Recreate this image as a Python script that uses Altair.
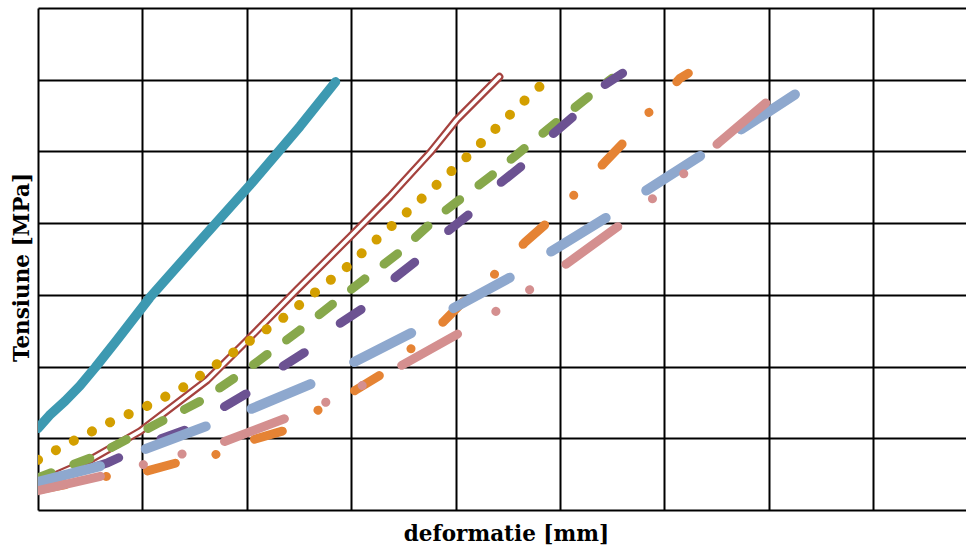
import altair as alt
import pandas as pd

# Stress-strain curves: deformation [mm] vs. stress [MPa], one list pair per test
teal_x = [0.00, 0.11, 0.26, 0.40, 0.55, 0.74, 1.07, 1.55, 2.03, 2.30, 2.51, 2.85]
teal_y = [1.14, 1.32, 1.52, 1.73, 1.99, 2.34, 2.96, 3.75, 4.53, 4.99, 5.35, 5.97]

red_x = [0.00, 0.50, 0.98, 1.62, 2.00, 2.48, 2.99, 3.37, 3.76, 4.01, 4.42]
red_y = [0.38, 0.70, 1.10, 1.81, 2.36, 3.07, 3.81, 4.37, 4.99, 5.44, 6.04]

gold_x = [0.00, 0.32, 0.67, 1.03, 1.38, 1.70, 2.01, 2.35, 2.65, 2.96, 3.25, 3.54,
          3.83, 4.12, 4.40, 4.69, 4.84]
gold_y = [0.70, 0.95, 1.21, 1.44, 1.70, 2.02, 2.34, 2.68, 3.03, 3.39, 3.78, 4.16,
          4.55, 4.94, 5.34, 5.75, 5.95]

green_x = [0.00, 0.53, 1.03, 1.57, 2.03, 2.51, 2.96, 3.45, 3.87, 4.35, 4.79, 5.27, 5.50]
green_y = [0.45, 0.74, 1.12, 1.53, 1.99, 2.51, 3.03, 3.58, 4.14, 4.67, 5.20, 5.76, 6.02]

purple_x = [0.00, 0.67, 1.15, 1.46, 1.76, 2.03, 2.32, 2.59, 2.87, 3.13, 3.42, 3.64,
            3.92, 4.16, 4.43, 4.67, 4.93, 5.17, 5.41, 5.60]
purple_y = [0.35, 0.66, 0.98, 1.14, 1.42, 1.65, 1.98, 2.23, 2.58, 2.83, 3.24, 3.49,
            3.88, 4.16, 4.56, 4.84, 5.24, 5.54, 5.91, 6.09]

orange_x = [0.00, 0.66, 1.01, 1.36, 1.72, 2.06, 2.39, 2.68, 3.04, 3.31, 3.59, 3.88,
            4.09, 4.40, 4.67, 4.89, 5.16, 5.43, 5.64, 5.89, 6.15, 6.23]
orange_y = [0.28, 0.47, 0.53, 0.67, 0.78, 0.98, 1.12, 1.39, 1.67, 1.91, 2.27, 2.62,
            2.93, 3.32, 3.74, 4.02, 4.43, 4.85, 5.17, 5.61, 6.02, 6.09]

blue_x = [0.00, 0.67, 1.01, 1.67, 2.01, 2.70, 3.01, 3.63, 3.95, 4.57, 4.89, 5.48,
          5.80, 6.39, 6.73, 7.30]
blue_y = [0.39, 0.64, 0.84, 1.20, 1.39, 1.81, 2.05, 2.51, 2.79, 3.28, 3.58, 4.11,
          4.43, 4.98, 5.30, 5.84]

pink_x = [0.00, 0.66, 1.00, 1.38, 1.74, 2.41, 2.77, 3.11, 3.45, 4.09, 4.41, 4.74,
          5.07, 5.62, 5.92, 6.23, 6.52, 7.04]
pink_y = [0.27, 0.49, 0.63, 0.78, 0.93, 1.30, 1.51, 1.74, 1.99, 2.51, 2.79, 3.10,
          3.44, 4.02, 4.38, 4.74, 5.12, 5.76]

x_ticks = [0, 1, 2, 3, 4, 5, 6, 7, 8]
y_ticks = [0, 1, 2, 3, 4, 5, 6, 7]

TITLE_FONT = "DejaVu Serif"

x_scale = alt.Scale(domain=[0, 8.89], nice=False, zero=False)
y_scale = alt.Scale(domain=[0, 7], nice=False, zero=False)

x_axis = alt.Axis(
    values=x_ticks, grid=True, gridColor="black", gridWidth=2, gridOpacity=1,
    ticks=False, labels=False, domain=False,
    title="deformatie [mm]", titleFont=TITLE_FONT, titleFontSize=21.5,
    titleFontWeight="bold", titleColor="black", titlePadding=13, titleX=468,
)
y_axis = alt.Axis(
    values=y_ticks, grid=True, gridColor="black", gridWidth=2, gridOpacity=1,
    ticks=False, labels=False, domain=False,
    title="Tensiune [MPa]", titleFont=TITLE_FONT, titleFontSize=21.5,
    titleFontWeight="bold", titleColor="black", titlePadding=5, titleY=259,
)


def frame(xs, ys):
    return pd.DataFrame({"x": xs, "y": ys, "i": list(range(len(xs)))})


def curve(xs, ys, color, width, dash=None, offset=0):
    props = dict(color=color, strokeWidth=width, strokeCap="round",
                 strokeJoin="round", clip=True)
    if dash is not None:
        props["strokeDash"] = dash
        props["strokeDashOffset"] = offset
    return alt.Chart(frame(xs, ys)).mark_line(**props).encode(
        x=alt.X("x:Q", scale=x_scale, axis=x_axis),
        y=alt.Y("y:Q", scale=y_scale, axis=y_axis),
        order="i:Q",
    )


layers = [
    curve(teal_x, teal_y, "#3D99B1", 9.5),
    # double (compound) line: wide red stroke with a thin white core
    curve(red_x, red_y, "#A5423E", 8),
    curve(red_x, red_y, "white", 3.5),
    curve(gold_x, gold_y, "#D39F00", 10, [0.1, 20.2], 0),
    curve(green_x, green_y, "#87A84B", 9, [17, 24.2], 2.9),
    curve(purple_x, purple_y, "#6C5292", 9, [25, 46.5], 11.3),
    curve(orange_x, orange_y, "#E58334", 9, [29, 41.5, 0.1, 41.4], 0.9),
    curve(blue_x, blue_y, "#8EA8CE", 10, [64, 49], 0),
    curve(pink_x, pink_y, "#D48F8F", 9, [64, 44.5, 0.1, 40, 0.1, 44.3], 0),
]

chart = alt.layer(*layers).properties(
    width=928,
    height=502,
    padding={"left": 38, "top": 8, "right": 0, "bottom": 36},
    autosize=alt.AutoSizeParams(type="none"),
    background="white",
).configure_view(strokeWidth=0)

chart.save("out.html", embed_options={"renderer": "svg", "actions": False})
